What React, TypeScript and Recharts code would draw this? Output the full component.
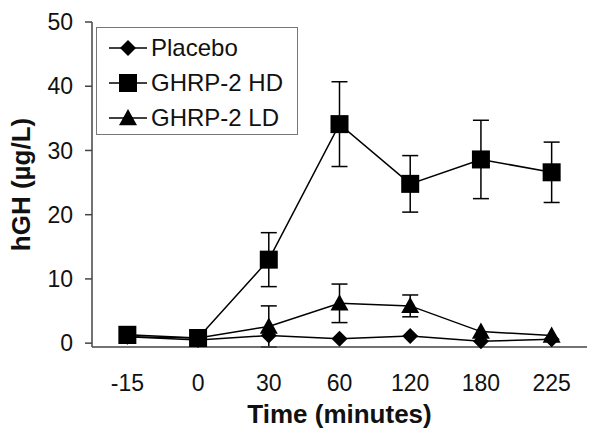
import { ComposedChart, Line, XAxis, YAxis, ErrorBar } from 'recharts';

const categories = ['-15', '0', '30', '60', '120', '180', '225'];
const placebo = [1.0, 0.5, 1.2, 0.7, 1.1, 0.3, 0.6];
const placeboErr = [0, 0, 0, 0, 0, 0, 0];
const hd = [1.3, 0.8, 13.0, 34.1, 24.8, 28.6, 26.6];
const hdErr = [0, 0, 4.2, 6.6, 4.4, 6.1, 4.7];
const ld = [1.0, 0.8, 2.6, 6.2, 5.8, 1.8, 1.2];
const ldErr = [0, 0, 3.2, 3.0, 1.7, 0, 0];
const yTicks = [0, 10, 20, 30, 40, 50];

const data = categories.map((c, i) => ({
  idx: i,
  label: c,
  placebo: placebo[i],
  placeboErr: placeboErr[i],
  hd: hd[i],
  hdErr: hdErr[i],
  ld: ld[i],
  ldErr: ldErr[i],
}));

const boundaryTicks = [...categories.map((_, i) => i - 0.5), categories.length - 0.5];
const FONT = 'Liberation Sans, Arial, sans-serif';

function Marker({ kind, cx, cy }: { kind: string; cx: number; cy: number }) {
  if (kind === 'diamond') {
    const r = 8;
    return <polygon points={`${cx},${cy - r} ${cx + r},${cy} ${cx},${cy + r} ${cx - r},${cy}`} fill="#000" />;
  }
  if (kind === 'square') {
    const s = 9;
    return <rect x={cx - s} y={cy - s} width={s * 2} height={s * 2} fill="#000" />;
  }
  const r = 9;
  return <polygon points={`${cx},${cy - r} ${cx + r},${cy + r * 0.8} ${cx - r},${cy + r * 0.8}`} fill="#000" />;
}

const dotFor = (kind: string) => (props: any) => (
  <Marker key={`${kind}-${props.index}`} kind={kind} cx={props.cx} cy={props.cy} />
);

const legendItems = [
  { name: 'Placebo', kind: 'diamond' },
  { name: 'GHRP-2 HD', kind: 'square' },
  { name: 'GHRP-2 LD', kind: 'triangle' },
];

function LegendBox() {
  return (
    <div
      style={{
        position: 'absolute',
        left: 96,
        top: 27,
        border: '1px solid #777',
        background: '#fff',
        width: 202,
        height: 108,
        boxSizing: 'border-box',
        paddingTop: 2,
      }}
    >
      {legendItems.map((it) => (
        <div key={it.name} style={{ display: 'flex', alignItems: 'center', height: 35 }}>
          <svg width={46} height={24} style={{ marginLeft: 8 }}>
            <line x1={4} y1={12} x2={42} y2={12} stroke="#000" strokeWidth={1.5} />
            <Marker kind={it.kind} cx={23} cy={12} />
          </svg>
          <span style={{ fontFamily: FONT, fontSize: 24, color: '#111', whiteSpace: 'nowrap' }}>{it.name}</span>
        </div>
      ))}
    </div>
  );
}

export default function App() {
  return (
    <div style={{ position: 'absolute', left: 0, top: 0, width: 600, height: 437, background: '#fff' }}>
      <ComposedChart
        width={600}
        height={437}
        data={data}
        margin={{ top: 22, right: 13, left: 0, bottom: 0 }}
      >
        <XAxis
          dataKey="idx"
          type="number"
          domain={[-0.5, categories.length - 0.5]}
          ticks={categories.map((_, i) => i)}
          tickFormatter={(v: number) => categories[v]}
          tickLine={false}
          axisLine={{ stroke: '#444', strokeWidth: 1.5 }}
          tick={{ fill: '#111', fontSize: 23, fontFamily: FONT }}
          tickMargin={22}
          height={90}
          label={{
            value: 'Time (minutes)',
            position: 'insideBottom',
            offset: 14,
            style: { fill: '#111', fontSize: 26, fontWeight: 'bold', fontFamily: FONT },
          }}
        />
        <XAxis
          xAxisId="bounds"
          type="number"
          domain={[-0.5, categories.length - 0.5]}
          ticks={boundaryTicks}
          tick={false}
          tickSize={7}
          tickLine={{ stroke: '#444', strokeWidth: 1.5 }}
          axisLine={false}
          height={0}
        />
        <XAxis
          xAxisId="top"
          orientation="top"
          type="number"
          domain={[-0.5, categories.length - 0.5]}
          tick={false}
          tickLine={false}
          axisLine={{ stroke: '#888', strokeWidth: 1.5 }}
          height={0}
        />
        <YAxis
          domain={[0, 50]}
          ticks={yTicks}
          width={92}
          tickSize={7}
          tickMargin={12}
          tickLine={{ stroke: '#444', strokeWidth: 1.5 }}
          axisLine={{ stroke: '#444', strokeWidth: 1.5 }}
          tick={{ fill: '#111', fontSize: 23, fontFamily: FONT }}
          label={{
            value: 'hGH (µg/L)',
            angle: -90,
            position: 'insideLeft',
            offset: 21,
            style: { fill: '#111', fontSize: 26, fontWeight: 'bold', fontFamily: FONT, textAnchor: 'middle' },
          }}
        />
        <YAxis
          yAxisId="right"
          orientation="right"
          domain={[0, 50]}
          tick={false}
          tickLine={false}
          axisLine={{ stroke: '#888', strokeWidth: 1.5 }}
          width={0}
        />
        <Line
          dataKey="placebo"
          name="Placebo"
          stroke="#000"
          strokeWidth={1.5}
          dot={dotFor('diamond')}
          activeDot={false}
          isAnimationActive={false}
        >
          <ErrorBar dataKey="placeboErr" width={8} stroke="#000" strokeWidth={1.5} />
        </Line>
        <Line
          dataKey="ld"
          name="GHRP-2 LD"
          stroke="#000"
          strokeWidth={1.5}
          dot={dotFor('triangle')}
          activeDot={false}
          isAnimationActive={false}
        >
          <ErrorBar dataKey="ldErr" width={8} stroke="#000" strokeWidth={1.5} />
        </Line>
        <Line
          dataKey="hd"
          name="GHRP-2 HD"
          stroke="#000"
          strokeWidth={1.5}
          dot={dotFor('square')}
          activeDot={false}
          isAnimationActive={false}
        >
          <ErrorBar dataKey="hdErr" width={8} stroke="#000" strokeWidth={1.5} />
        </Line>
      </ComposedChart>
      <LegendBox />
    </div>
  );
}
